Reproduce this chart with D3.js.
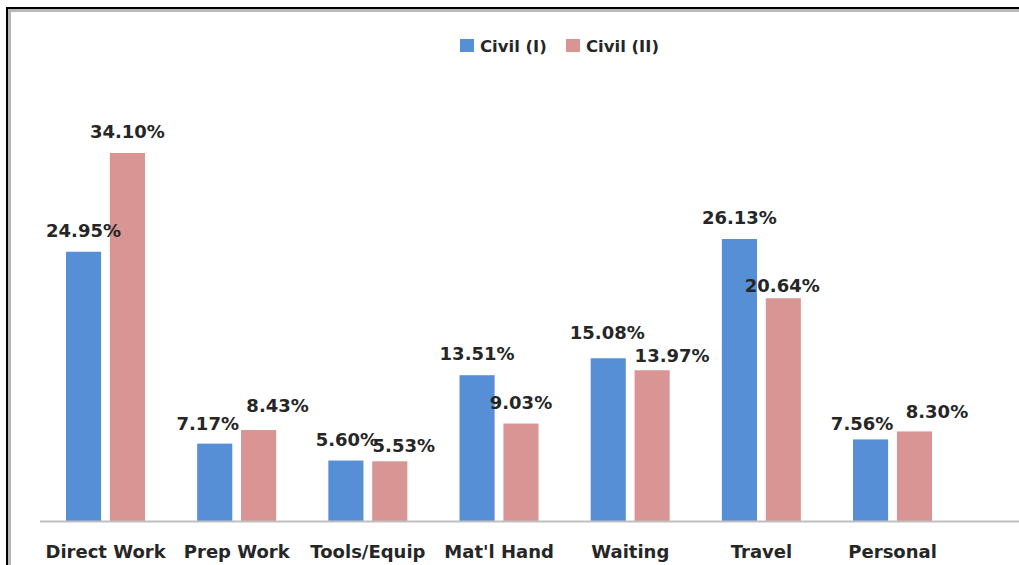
<!DOCTYPE html>
<html><head><meta charset="utf-8">
<script src="https://cdn.jsdelivr.net/npm/d3@7"></script>
<style>html,body{margin:0;padding:0;background:#fff;}svg{display:block;}</style>
</head><body>
<script>
const categories = ["Direct Work","Prep Work","Tools/Equip","Mat'l Hand","Waiting","Travel","Personal"];
const seriesNames = ["Civil (I)","Civil (II)"];
const civil1 = [24.95, 7.17, 5.60, 13.51, 15.08, 26.13, 7.56];
const civil2 = [34.10, 8.43, 5.53, 9.03, 13.97, 20.64, 8.30];
const colors = ["#568fd6","#d99594"];

// layout nudges for data labels (Excel-style collision offsets): [dx, dy]
const labelNudge = {
  "1-0":[-7,1], "1-1":[19,-3],
  "2-0":[1,0], "2-1":[14,5.4],
  "4-0":[-1,-4], "4-1":[20,6.4],
  "5-1":[-1,8.4],
  "6-0":[-8.5,5.6], "6-1":[22.5,2]
};

const W = 1019, H = 565;
const svg = d3.select("body").append("svg").attr("width", W).attr("height", H);

// frame with inner shadow
svg.append("line").attr("x1",9).attr("x2",W).attr("y1",10.5).attr("y2",10.5).attr("stroke","#b8b8b8").attr("stroke-width",3);
svg.append("line").attr("x1",9.5).attr("x2",9.5).attr("y1",9).attr("y2",H).attr("stroke","#b8b8b8").attr("stroke-width",3);
svg.append("line").attr("x1",6).attr("x2",W).attr("y1",8).attr("y2",8).attr("stroke","#000").attr("stroke-width",2);
svg.append("line").attr("x1",7).attr("x2",7).attr("y1",7).attr("y2",H).attr("stroke","#000").attr("stroke-width",2);

const baseY = 521;
const x0 = d3.scaleBand().domain(categories).range([40, 958.2]).paddingInner(0).paddingOuter(0);
const x1 = d3.scaleBand().domain(seriesNames).range([26, 105]).paddingInner(0.2).paddingOuter(0);
const y = d3.scaleLinear().domain([0, 34.10]).range([baseY, 153]);

const data = categories.map((c,i)=>({cat:c, i, vals:[civil1[i], civil2[i]]}));

const g = svg.append("g");
const groups = g.selectAll("g.cat").data(data).join("g").attr("transform", d=>`translate(${x0(d.cat)},0)`);
groups.selectAll("rect").data(d=>d.vals.map((v,j)=>({v,j,i:d.i}))).join("rect")
  .attr("x", d=>x1(seriesNames[d.j]))
  .attr("y", d=>y(d.v))
  .attr("width", x1.bandwidth())
  .attr("height", d=>baseY - y(d.v))
  .attr("fill", d=>colors[d.j]);

groups.selectAll("text.lbl").data(d=>d.vals.map((v,j)=>({v,j,i:d.i}))).join("text")
  .attr("class","lbl")
  .attr("x", d=>x1(seriesNames[d.j]) + x1.bandwidth()/2 + (labelNudge[d.i+"-"+d.j]||[0,0])[0])
  .attr("y", d=>y(d.v) - 15 + (labelNudge[d.i+"-"+d.j]||[0,0])[1])
  .attr("text-anchor","middle")
  .attr("font-family","DejaVu Sans")
  .attr("font-weight","bold")
  .attr("font-size",18)
  .attr("fill","#262626")
  .text(d=>d.v.toFixed(2)+"%");

// x axis
const xAxis = d3.axisBottom(x0).tickSize(0).tickPadding(0);
const ax = svg.append("g").attr("transform",`translate(0,${baseY})`).call(xAxis);
ax.select(".domain").remove();
svg.append("line").attr("x1",40).attr("x2",W).attr("y1",baseY+0.5).attr("y2",baseY+0.5).attr("stroke","#bfbfbf").attr("stroke-width",2);
ax.selectAll("text").attr("y",37).attr("dy",0)
  .attr("font-family","DejaVu Sans").attr("font-weight","bold").attr("font-size",18).attr("fill","#262626");

// legend
const legend = svg.append("g");
const legX = [460, 566];
seriesNames.forEach((s,j)=>{
  legend.append("rect").attr("x",legX[j]).attr("y",39).attr("width",14).attr("height",13).attr("fill",colors[j]);
  legend.append("text").attr("x",legX[j]+20).attr("y",52).attr("font-family","DejaVu Sans").attr("font-weight","bold")
    .attr("font-size",16.5).attr("fill","#262626").text(s);
});
</script>
</body></html>
